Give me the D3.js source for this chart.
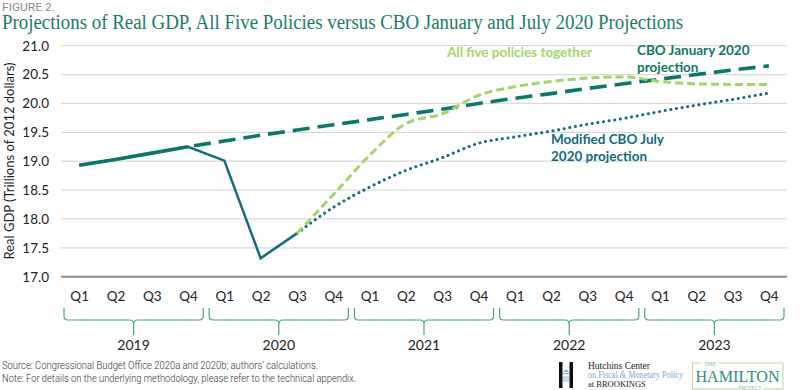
<!DOCTYPE html>
<html><head><meta charset="utf-8">
<script src="https://cdn.jsdelivr.net/npm/d3@7"></script>
<style>
html,body{margin:0;padding:0;background:#fff;}
svg{display:block;}
</style></head>
<body>
<svg id="chart" width="800" height="390"></svg>
<script>
// ---- data ----
const years = ["2019","2020","2021","2022","2023"];
const quarterLabels = ["Q1","Q2","Q3","Q4"];
const yTicks = [17.0,17.5,18.0,18.5,19.0,19.5,20.0,20.5,21.0];
// actual GDP, Q1 2019 .. Q3 2020
const actual = [18.93,19.03,19.14,19.25,19.01,17.32,17.75];
// CBO January 2020 projection, Q4 2019 .. Q4 2023
const cboJanStart = 3;
const cboJan = [19.25,19.35,19.45,19.54,19.63,19.72,19.81,19.90,20.00,20.09,20.17,20.26,20.34,20.42,20.50,20.58,20.65];
// Modified CBO July 2020 projection, Q3 2020 .. Q4 2023
const julyStart = 6;
const cboJuly = [17.75,18.20,18.55,18.84,19.06,19.31,19.42,19.52,19.64,19.74,19.86,19.97,20.07,20.18];
// All five policies together, Q3 2020 .. Q4 2023
const fiveStart = 6;
const fivePolicies = [17.75,18.42,19.10,19.65,19.82,20.14,20.29,20.38,20.44,20.46,20.38,20.34,20.33,20.33];

const categories = years.flatMap(y => quarterLabels.map(q => y + " " + q));

// ---- layout ----
const svg = d3.select("#chart");
const plotLeft = 61, plotRight = 787, plotTop = 45.7, plotBottom = 276.7;
const x = d3.scalePoint().domain(categories).range([plotLeft, plotRight]).padding(0.5);
const step = x.step();
const y = d3.scaleLinear().domain([17, 21]).range([plotBottom, plotTop]);

const sansFont = "Lato, 'Open Sans', sans-serif";

// header
svg.append("text").attr("x", 2).attr("y", 10.5)
  .attr("font-family", "Roboto, sans-serif").attr("font-size", 10)
  .attr("fill", "#8a8a8a").attr("textLength", 53).attr("lengthAdjust", "spacingAndGlyphs")
  .text("FIGURE 2.");
svg.append("text").attr("x", 2).attr("y", 29)
  .attr("font-family", "'Liberation Serif', 'DejaVu Serif', serif").attr("font-size", 20)
  .attr("fill", "#1a7a6c").attr("textLength", 681).attr("lengthAdjust", "spacingAndGlyphs")
  .text("Projections of Real GDP, All Five Policies versus CBO January and July 2020 Projections");

// gridlines
svg.append("g").selectAll("line").data(yTicks.filter(t => t !== 17)).join("line")
  .attr("x1", plotLeft).attr("x2", plotRight)
  .attr("y1", d => y(d)).attr("y2", d => y(d))
  .attr("stroke", "#d9d9d9").attr("stroke-width", 1.3);
svg.append("line").attr("x1", plotLeft).attr("x2", plotRight)
  .attr("y1", y(17)).attr("y2", y(17))
  .attr("stroke", "#8c8c8c").attr("stroke-width", 2);

// y axis
const yAxis = d3.axisLeft(y).tickValues(yTicks).tickFormat(d3.format(".1f")).tickSize(0).tickPadding(12);
const yg = svg.append("g").attr("transform", `translate(${plotLeft},0)`).call(yAxis);
yg.select(".domain").remove();
yg.selectAll("text").attr("font-family", sansFont).attr("font-size", 13.5).attr("fill", "#222");

svg.append("text")
  .attr("transform", `translate(14,161) rotate(-90)`)
  .attr("text-anchor", "middle")
  .attr("font-family", sansFont).attr("font-size", 13).attr("fill", "#222")
  .text("Real GDP (Trillions of 2012 dollars)");

// x axis quarter labels
const xAxis = d3.axisBottom(x).tickFormat(d => d.split(" ")[1]).tickSize(0).tickPadding(0);
const xg = svg.append("g").attr("transform", `translate(0,291)`).call(xAxis);
xg.select(".domain").remove();
xg.selectAll("text").attr("font-family", sansFont).attr("font-size", 13.5).attr("fill", "#222");

// braces and years
const braceG = svg.append("g");
years.forEach(yr => {
  const first = x(yr + " Q1"), last = x(yr + " Q4");
  const x0 = first - step / 2 + 3, x1 = last + step / 2 - 3, cx = (first + last) / 2;
  const yt = 308, yh = 320, yb = 335, r = 4;
  const p = d3.path();
  p.moveTo(x0, yt); p.lineTo(x0, yh - r); p.quadraticCurveTo(x0, yh, x0 + r, yh);
  p.lineTo(cx - r, yh); p.quadraticCurveTo(cx, yh, cx, yh + r); p.lineTo(cx, yb);
  p.moveTo(cx, yh + r); p.quadraticCurveTo(cx, yh, cx + r, yh);
  p.lineTo(x1 - r, yh); p.quadraticCurveTo(x1, yh, x1, yh - r); p.lineTo(x1, yt);
  braceG.append("path").attr("d", p.toString()).attr("fill", "none")
    .attr("stroke", "#4a9f90").attr("stroke-width", 1.2);
  braceG.append("text").attr("x", cx).attr("y", 350).attr("text-anchor", "middle")
    .attr("font-family", sansFont).attr("font-size", 14).attr("fill", "#222").text(yr);
});

// lines
const pts = (arr, start) => arr.map((v, i) => [x(categories[start + i]), y(v)]);
const lin = d3.line();
const smooth = d3.line().curve(d3.curveMonotoneX);

svg.append("path").attr("d", lin(pts(actual, 0))).attr("fill", "none")
  .attr("stroke", "#136b7d").attr("stroke-width", 2.5).attr("stroke-linejoin", "miter");
// 2019 history overlaid by CBO January series colour
svg.append("path").attr("d", lin(pts(actual.slice(0, 4), 0))).attr("fill", "none")
  .attr("stroke", "#0d7767").attr("stroke-width", 3.6);
svg.append("path").attr("d", lin(pts(cboJan, cboJanStart))).attr("fill", "none")
  .attr("stroke", "#0d7767").attr("stroke-width", 3.6).attr("stroke-dasharray", "17,8").attr("stroke-dashoffset", -6);
svg.append("path").attr("d", smooth(pts(cboJuly, julyStart))).attr("fill", "none")
  .attr("stroke", "#136b7d").attr("stroke-width", 3).attr("stroke-linecap", "round")
  .attr("stroke-dasharray", "0.1,5.6");
svg.append("path").attr("d", smooth(pts(fivePolicies, fiveStart))).attr("fill", "none")
  .attr("stroke", "#a4d46a").attr("stroke-width", 3).attr("stroke-dasharray", "8,4");

// line labels
const lab = (tx, ty, txt, col) => svg.append("text").attr("x", tx).attr("y", ty)
  .attr("font-family", sansFont).attr("font-size", 13.5).attr("font-weight", 700)
  .attr("fill", col).text(txt);
lab(447, 57, "All five policies together", "#a4d46a");
lab(637, 55, "CBO January 2020", "#0d7767");
lab(637, 72, "projection", "#0d7767");
lab(551, 144, "Modified CBO July", "#136b7d");
lab(551, 161, "2020 projection", "#136b7d");

// footnotes
const foot = (ty, txt, len) => svg.append("text").attr("x", 2).attr("y", ty)
  .attr("font-family", "Roboto, sans-serif").attr("font-size", 10.5).attr("font-weight", 300)
  .attr("fill", "#333").attr("textLength", len).attr("lengthAdjust", "spacingAndGlyphs").text(txt);
foot(369, "Source: Congressional Budget Office 2020a and 2020b; authors’ calculations.", 316);
foot(382, "Note: For details on the underlying methodology, please refer to the technical appendix.", 354);

// Hutchins Center logo
const logo = svg.append("g");
logo.append("rect").attr("x", 559).attr("y", 362).attr("width", 3.5).attr("height", 26).attr("fill", "#111");
logo.append("rect").attr("x", 569.5).attr("y", 362).attr("width", 3.5).attr("height", 26).attr("fill", "#111");
logo.append("path").attr("d", "M563,372 Q566,367 569,372 Z").attr("fill", "#8fb3dc");
logo.append("rect").attr("x", 563).attr("y", 373).attr("width", 6).attr("height", 1.2).attr("fill", "#8fb3dc");
[564, 566, 568].forEach(px => logo.append("rect").attr("x", px - 0.5).attr("y", 376).attr("width", 1).attr("height", 6).attr("fill", "#8fb3dc"));
const serif = "'Liberation Serif', serif";
logo.append("text").attr("x", 588).attr("y", 369).attr("font-family", serif).attr("font-size", 9.5).attr("fill", "#222").text("Hutchins Center");
logo.append("text").attr("x", 588).attr("y", 378).attr("font-family", serif).attr("font-size", 9.5).attr("fill", "#7fa6d6").attr("textLength", 95).attr("lengthAdjust", "spacingAndGlyphs").text("on Fiscal & Monetary Policy");
logo.append("text").attr("x", 588).attr("y", 387).attr("font-family", serif).attr("font-size", 8.5).attr("fill", "#222").text("at BROOKINGS");

// Hamilton Project logo
const ham = svg.append("g");
ham.append("rect").attr("x", 692.5).attr("y", 363).attr("width", 90.5).attr("height", 26).attr("fill", "none").attr("stroke", "#bfdfa8").attr("stroke-width", 1.2);
ham.append("rect").attr("x", 701).attr("y", 359).attr("width", 18).attr("height", 7).attr("fill", "#fff");
ham.append("text").attr("x", 710).attr("y", 366).attr("text-anchor", "middle").attr("font-family", serif).attr("font-size", 6).attr("fill", "#8cc08a").text("THE");
ham.append("text").attr("x", 737.5).attr("y", 382).attr("text-anchor", "middle").attr("font-family", serif).attr("font-size", 17).attr("fill", "#2a8d83").attr("textLength", 84).attr("lengthAdjust", "spacingAndGlyphs").text("HAMILTON");
ham.append("rect").attr("x", 738).attr("y", 385).attr("width", 25).attr("height", 5).attr("fill", "#fff");
ham.append("text").attr("x", 750).attr("y", 389.5).attr("text-anchor", "middle").attr("font-family", serif).attr("font-size", 5.5).attr("fill", "#8cc08a").text("PROJECT");
</script>
</body></html>
